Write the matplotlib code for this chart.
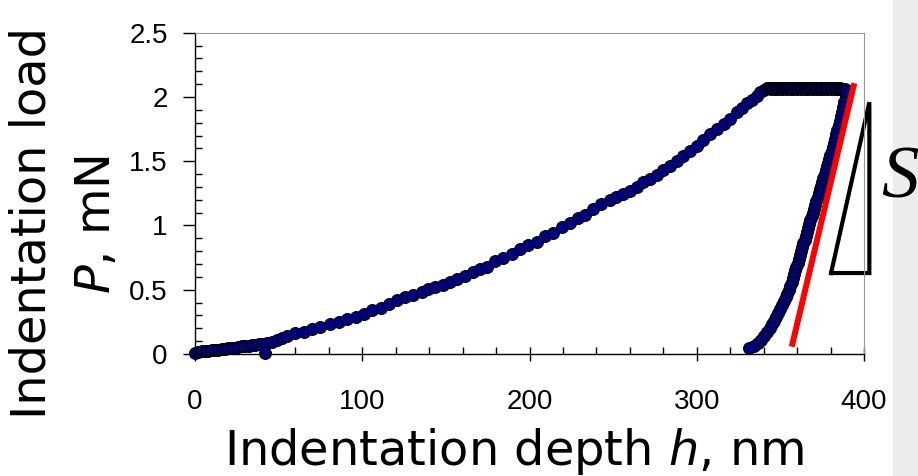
import matplotlib
matplotlib.use('Agg')
import matplotlib.pyplot as plt
from matplotlib.patches import Rectangle
from matplotlib.ticker import MultipleLocator

# loading branch (depth nm, load mN)
load_h = [0, 2, 4, 6, 8, 10, 12, 14, 16, 18, 20, 22, 24, 26, 28, 30, 32, 34, 36, 38, 40,
          43, 46, 49, 52, 55, 60, 65, 70, 75, 81, 86, 91, 96, 101, 106, 111, 116, 120.6,
          125.6, 130.6, 135.5, 139.5, 143.5, 148.5, 152.5, 156.5, 161.4, 166.4, 170.4,
          174.4, 179.4, 184.3, 189.3, 194.3, 199.3, 204.3, 209.3, 214.2, 219.2, 224.2,
          229, 233, 238, 243, 248, 252, 256, 260, 264, 268, 272, 276, 280, 284, 288, 292,
          296, 300, 304, 308, 312, 316, 320, 324, 327, 330, 333, 336, 338, 340, 342]
load_P = [0.01, 0.015, 0.02, 0.02, 0.025, 0.03, 0.03, 0.035, 0.04, 0.04, 0.045, 0.05, 0.05,
          0.055, 0.06, 0.06, 0.065, 0.07, 0.07, 0.075, 0.08, 0.085, 0.095, 0.11, 0.125, 0.14,
          0.16, 0.175, 0.195, 0.21, 0.23, 0.25, 0.27, 0.29, 0.315, 0.34, 0.36, 0.39, 0.42,
          0.44, 0.46, 0.48, 0.505, 0.52, 0.54, 0.56, 0.58, 0.61, 0.635, 0.66, 0.68, 0.72,
          0.75, 0.78, 0.815, 0.845, 0.875, 0.915, 0.945, 0.985, 1.02, 1.055, 1.085, 1.13,
          1.17, 1.195, 1.22, 1.245, 1.27, 1.30, 1.335, 1.36, 1.39, 1.43, 1.465, 1.50, 1.54,
          1.58, 1.62, 1.665, 1.71, 1.75, 1.79, 1.83, 1.88, 1.915, 1.95, 1.98, 2.01, 2.035,
          2.055, 2.07]

# hold at peak load
hold_h = [342.8, 343.5, 344.2, 345, 345.7, 346.5, 347.2, 348, 348.7, 349.5, 350.2, 351,
          351.7, 352.5, 353.2, 354, 354.7, 355.5, 356.2, 357, 357.7, 358.5, 359.2, 360,
          360.7, 361.5, 362.2, 363, 363.7, 364.5, 365.2, 366, 366.7, 367.5, 368.2, 369,
          369.7, 370.5, 371.2, 372, 372.7, 373.5, 374.2, 375, 375.7, 376.5, 377.2, 378,
          378.7, 379.5, 380.2, 381, 381.7, 382.5, 383.2, 384, 384.7, 385.5, 386.2, 387,
          387.7, 388.5, 389.2]
hold_P = [2.07, 2.068, 2.065, 2.07, 2.066, 2.065, 2.07, 2.067, 2.065, 2.07, 2.066, 2.065,
          2.07, 2.068, 2.065, 2.07, 2.066, 2.065, 2.07, 2.067, 2.065, 2.07, 2.066, 2.065,
          2.07, 2.068, 2.065, 2.07, 2.066, 2.065, 2.07, 2.067, 2.065, 2.07, 2.066, 2.065,
          2.07, 2.068, 2.065, 2.07, 2.066, 2.065, 2.07, 2.067, 2.065, 2.07, 2.066, 2.065,
          2.07, 2.068, 2.065, 2.07, 2.066, 2.065, 2.07, 2.067, 2.065, 2.066, 2.064, 2.062,
          2.06, 2.06, 2.058]

# unloading branch
unload_h = [389.5, 389, 388.3, 387.6, 386.9, 386.2, 385.5, 384.8, 384.1, 383.4, 382.7, 382,
            381.3, 380.6, 379.9, 379.2, 378.5, 377.8, 377.1, 376.4, 375.7, 375, 374.3,
            373.6, 372.9, 372.2, 371.5, 370.8, 370.1, 369.4, 368.7, 368, 367.3, 366.6,
            365.9, 365.2, 364.5, 363.8, 363.1, 362.4, 361.7, 361, 360.3, 359.6, 358.9,
            358.2, 357.5, 356.8, 356, 355.1, 354.2, 353.2, 352.2, 351.1, 350, 348.8, 347.6,
            346.3, 345, 343.6, 342.2, 340.5, 338.6, 336.5, 334, 331]
unload_P = [2.05, 2.00, 1.96, 1.92, 1.88, 1.85, 1.81, 1.78, 1.74, 1.71, 1.67, 1.64, 1.61,
            1.58, 1.55, 1.52, 1.49, 1.46, 1.43, 1.40, 1.37, 1.34, 1.31, 1.28, 1.25, 1.22,
            1.19, 1.16, 1.13, 1.10, 1.07, 1.04, 1.01, 0.98, 0.95, 0.92, 0.89, 0.86, 0.83,
            0.80, 0.77, 0.74, 0.71, 0.68, 0.65, 0.62, 0.59, 0.56, 0.53, 0.50, 0.47, 0.44,
            0.41, 0.38, 0.35, 0.32, 0.29, 0.26, 0.23, 0.20, 0.17, 0.14, 0.11, 0.085, 0.065,
            0.045]

stray_h = [42]
stray_P = [0.005]

# contact stiffness tangent and slope triangle
tangent_h = [356.8, 394.2]
tangent_P = [0.057, 2.107]
tri_h = [380.3, 403.2, 403.2, 380.3]
tri_P = [0.63, 1.959, 0.63, 0.63]

fig = plt.figure(figsize=(9.18, 4.76), dpi=100)
fig.patches.append(Rectangle((893/918, 0), 25/918, 1, transform=fig.transFigure,
                             color='#ececec', zorder=-5))
ax = fig.add_axes([195/918, 1 - 354/476, 669/918, (354 - 32.7)/476])

mk = dict(ls='none', marker='o', ms=8.6, mfc='#000080', mec='black', mew=0.7, clip_on=False)
ax.plot(load_h, load_P, **mk)
ax.plot(hold_h, hold_P, **mk)
ax.plot(unload_h, unload_P, **mk)
ax.plot(stray_h, stray_P, **mk)
ax.plot(tangent_h, tangent_P, color='red', lw=4.3, solid_capstyle='butt')
ax.plot(tri_h, tri_P, color='black', lw=3, clip_on=False, solid_joinstyle='miter')

ax.set_xlim(0, 400)
ax.set_ylim(0, 2.5)
ax.set_xticks([0, 100, 200, 300, 400])
ax.set_yticks([0, 0.5, 1, 1.5, 2, 2.5])
ax.set_yticklabels(['0', '0.5', '1', '1.5', '2', '2.5'])
ax.xaxis.set_minor_locator(MultipleLocator(20))
ax.yaxis.set_minor_locator(MultipleLocator(0.1))
ax.tick_params(axis='both', which='major', labelsize=20, labelfontfamily='Liberation Sans')
ax.tick_params(axis='x', which='major', direction='inout', length=10, width=1, pad=20)
ax.tick_params(axis='x', which='minor', direction='in', length=5, width=1)
ax.tick_params(axis='y', which='major', direction='out', length=8.6, width=1, pad=11)
ax.tick_params(axis='y', which='minor', direction='in', length=5, width=1)
for s in ['top', 'right']:
    ax.spines[s].set_color('#999999')
    ax.spines[s].set_linewidth(0.8)
for s in ['left', 'bottom']:
    ax.spines[s].set_linewidth(1)

plt.rcParams['mathtext.fontset'] = 'dejavusans'
fig.text(514/918, 1 - 465/476, r'Indentation depth $\mathit{h}$, nm', fontsize=34.5,
         ha='center', va='baseline')
fig.text(32/918, 1 - 223/476, 'Indentation load', fontsize=34.5, rotation=90,
         ha='center', va='center')
fig.text(97/918, 1 - 224/476, r'$\mathit{P}$, mN', fontsize=34.5, rotation=90,
         ha='center', va='center')
fig.text(881/918, 1 - 197/476, 'S', family='Liberation Serif', style='italic',
         fontsize=54, ha='left', va='baseline')

fig.savefig('out.png', dpi=100)
